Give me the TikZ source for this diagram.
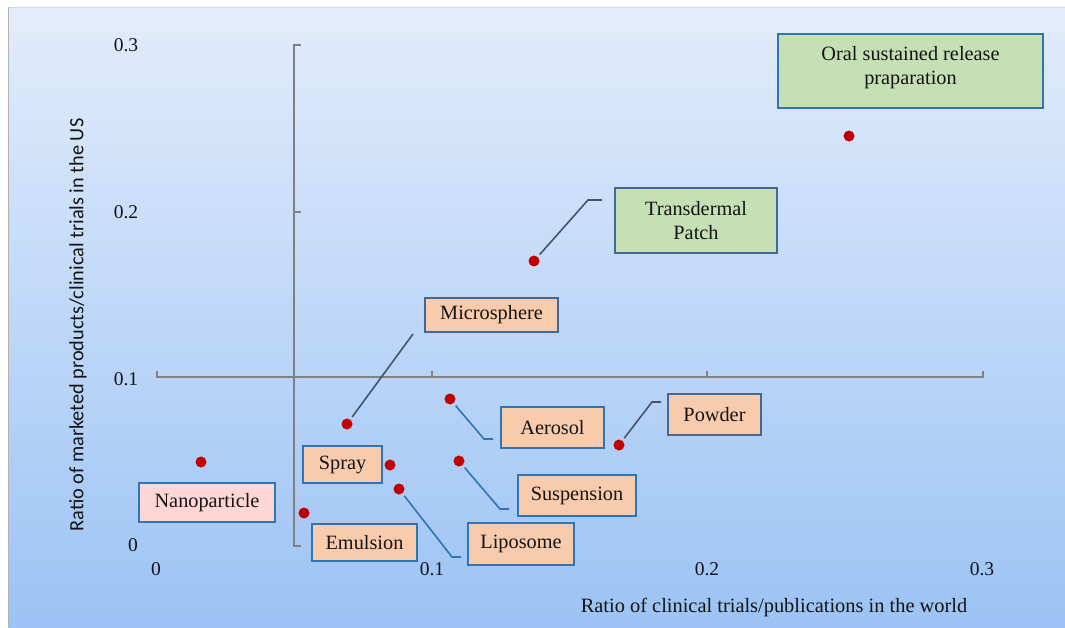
\documentclass[tikz,border=0pt]{standalone}
\usepackage{fontspec}
\setmainfont{Liberation Serif}
\newfontfamily\carlito{Carlito}
\definecolor{bgtop}{RGB}{226,236,251}
\definecolor{bgbot}{RGB}{156,195,244}
\definecolor{axisgray}{RGB}{128,128,128}
\definecolor{dotred}{RGB}{192,0,0}
\definecolor{boxblue}{RGB}{46,117,182}
\definecolor{boxslate}{RGB}{68,104,150}
\definecolor{leadslate}{RGB}{68,84,106}
\definecolor{peach}{RGB}{248,203,173}
\definecolor{leafgreen}{RGB}{197,224,180}
\definecolor{rose}{RGB}{255,214,214}
\definecolor{txt}{RGB}{20,20,20}
\begin{document}
\begin{tikzpicture}[x=1pt,y=-1pt,
  dot/.style={circle,fill=dotred,inner sep=0pt,minimum size=11pt},
  lbl/.style={draw=boxblue,line width=1.6pt,inner sep=0pt,text=txt,
    font=\fontsize{20.3}{24}\selectfont,align=center},
  tick/.style={text=txt,font=\fontsize{19.5}{23}\selectfont},
  lead/.style={draw=boxblue,line width=1.6pt,shorten <=3pt},
  leadd/.style={lead,draw=leadslate}]
  \useasboundingbox (0,0) rectangle (1065,627);
  \fill[white] (0,0) rectangle (1065,627);
  \shade[top color=bgtop,bottom color=bgbot] (8,7) rectangle (1065,627);
  \draw[black!15,line width=1pt] (8,7) -- (1065,7);
  \draw[black!30,line width=1pt] (8,7) -- (8,627);

  % axes
  \draw[axisgray,line width=1.8pt] (157,371) -- (157,377) -- (983,377) -- (983,371);
  \draw[axisgray,line width=1.8pt] (432,377) -- (432,371);
  \draw[axisgray,line width=1.8pt] (707,377) -- (707,371);
  \draw[axisgray,line width=1.8pt] (301,45) -- (294,45) -- (294,546) -- (301,546);
  \draw[axisgray,line width=1.8pt] (294,212) -- (301,212);

  \node[tick] (y3) at (126,45) {0.3};
  \node[tick] (y2) at (126,212) {0.2};
  \node[tick] (y1) at (126,379) {0.1};
  \node[tick] (y0) at (133,545) {0};
  \node[tick] (x0) at (156,569) {0};
  \node[tick] (x1) at (432,569) {0.1};
  \node[tick] (x2) at (707,569) {0.2};
  \node[tick] (x3) at (982,569) {0.3};

  \node[tick,font=\fontsize{20.4}{24}\selectfont] (xt) at (774,607)
    {Ratio of clinical trials/publications in the world};
  \node[text=txt,rotate=90,font=\carlito\fontsize{20.3}{24}\selectfont] (yt) at (78,325)
    {Ratio of marketed products/clinical trials in the US};

  % data points
  \node[dot] (d1) at (849,136) {};
  \node[dot] (d2) at (534,261) {};
  \node[dot] (d3) at (347,424) {};
  \node[dot] (d4) at (450,399) {};
  \node[dot] (d5) at (619,445) {};
  \node[dot] (d6) at (459,461) {};
  \node[dot] (d7) at (390,465) {};
  \node[dot] (d8) at (399,489) {};
  \node[dot] (d9) at (201,462) {};
  \node[dot] (d10) at (304,513) {};

  % labels
  \node[lbl,fill=leafgreen,minimum width=265pt,minimum height=74pt] (b1) at (910.5,71)
    {Oral sustained release\\praparation\rule[-12pt]{0pt}{0pt}};
  \node[lbl,fill=leafgreen,draw=boxslate,minimum width=162pt,minimum height=65pt] (b2) at (696,220.5)
    {Transdermal\\Patch};
  \node[lbl,fill=peach,draw=boxslate,minimum width=133pt,minimum height=34pt] (b3) at (491.5,315) {Microsphere};
  \node[lbl,fill=peach,minimum width=103pt,minimum height=41pt] (b4) at (552.5,427.5) {Aerosol};
  \node[lbl,fill=peach,draw=boxslate,minimum width=93pt,minimum height=41pt] (b5) at (714.5,414.5) {Powder};
  \node[lbl,fill=peach,minimum width=118pt,minimum height=41pt] (b6) at (577,495.5) {Suspension};
  \node[lbl,fill=peach,minimum width=106pt,minimum height=42pt] (b7) at (521,544) {Liposome};
  \node[lbl,fill=peach,minimum width=79pt,minimum height=37pt] (b8) at (342.5,464.5) {Spray};
  \node[lbl,fill=rose,minimum width=136pt,minimum height=39pt] (b9) at (207,502.5) {Nanoparticle};
  \node[lbl,fill=peach,minimum width=105pt,minimum height=37pt] (b10) at (364.5,542.5) {Emulsion};

  % leader lines
  \coordinate (k2) at (588,200);
  \coordinate (e2) at (602,200);
  \coordinate (e3) at (413,334);
  \coordinate (k4) at (484,439);
  \coordinate (e4) at (493,439);
  \coordinate (k5) at (652,402);
  \coordinate (e5) at (661,402);
  \coordinate (k6) at (500,509);
  \coordinate (e6) at (509,509);
  \coordinate (k8) at (452,557);
  \coordinate (e8) at (461,557);

  \draw[leadd] (d2) -- (k2) -- (e2);
  \draw[leadd] (d3) -- (e3);
  \draw[lead] (d4) -- (k4) -- (e4);
  \draw[leadd] (d5) -- (k5) -- (e5);
  \draw[lead] (d6) -- (k6) -- (e6);
  \draw[lead] (d8) -- (k8) -- (e8);
\end{tikzpicture}
\end{document}
